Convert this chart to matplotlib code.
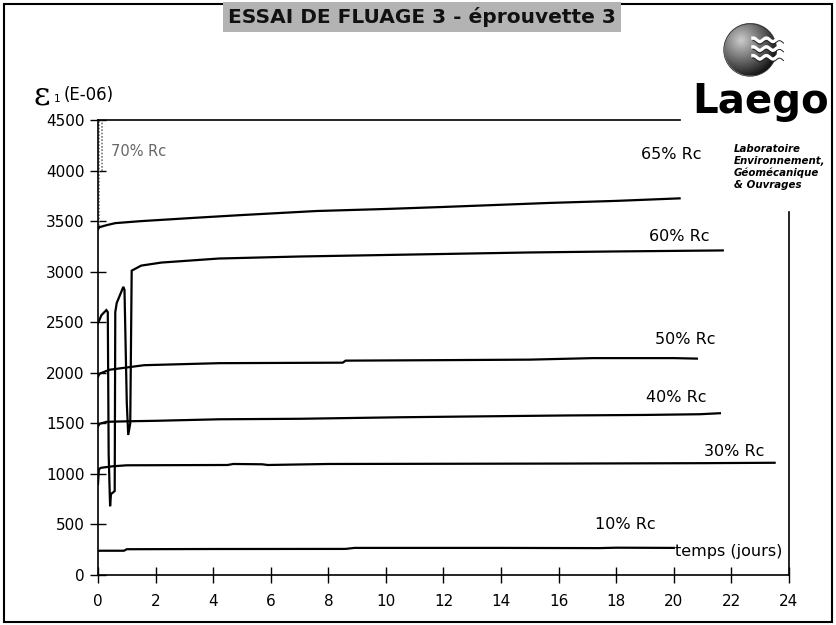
import matplotlib
matplotlib.use("Agg")
import matplotlib.pyplot as plt
from matplotlib.patches import Rectangle, Circle
import numpy as np

# creep test data (days, strain E-06)
t_10 = [0.0, 0.05, 0.9, 1.0, 4.0, 8.6, 8.9, 14.0, 17.4, 18.0, 20.0]
e_10 = [235, 240, 240, 255, 257, 258, 268, 268, 266, 270, 268]

t_30 = [0.0, 0.03, 0.1, 0.5, 1.0, 4.5, 4.7, 5.7, 5.9, 8.0, 12.0, 16.0, 21.0, 23.5]
e_30 = [900, 1045, 1060, 1075, 1085, 1088, 1098, 1095, 1088, 1098, 1100, 1102, 1106, 1110]

t_40 = [0.0, 0.05, 0.3, 1.0, 2.0, 4.2, 7.0, 10.5, 13.0, 16.3, 19.0, 20.9, 21.6]
e_40 = [1470, 1495, 1515, 1520, 1525, 1540, 1545, 1560, 1568, 1578, 1583, 1590, 1600]

t_50 = [0.0, 0.05, 0.4, 1.6, 4.2, 8.5, 8.6, 12.0, 15.0, 17.2, 20.0, 20.8]
e_50 = [1960, 1990, 2030, 2075, 2095, 2100, 2120, 2125, 2130, 2145, 2145, 2140]

t_60 = [0.0, 0.12, 0.29, 0.34, 0.37, 0.42, 0.45, 0.58, 0.6, 0.65, 0.88, 0.92,
        1.0, 1.05, 1.12, 1.17, 1.5, 2.2, 4.2, 7.0, 10.0, 15.0, 18.0, 21.7]
e_60 = [2490, 2570, 2620, 2600, 1200, 680, 800, 830, 2600, 2690, 2850, 2820,
        1700, 1385, 1500, 3010, 3060, 3090, 3130, 3150, 3165, 3190, 3200, 3210]

t_65 = [0.0, 0.05, 0.3, 0.6, 1.5, 3.5, 5.0, 7.6, 10.0, 12.0, 15.7, 18.0, 20.2]
e_65 = [3420, 3440, 3460, 3480, 3500, 3535, 3560, 3600, 3620, 3640, 3680, 3700, 3725]

t_70a = [0.02, 0.02]
e_70a = [3450, 4500]
t_70b = [0.15, 0.15]
e_70b = [4000, 4500]

labels = ["10% Rc", "30% Rc", "40% Rc", "50% Rc", "60% Rc", "65% Rc"]
label_t = [18.3, 22.1, 20.1, 20.4, 20.2, 19.9]
label_e = [495, 1226, 1760, 2334, 3343, 4154]

xticks = list(range(0, 25, 2))
yticks = list(range(0, 4501, 500))

fig = plt.figure(figsize=(8.37, 6.25), dpi=100)
ax = fig.add_axes([98 / 837, 1 - 575 / 625, 691 / 837, 455 / 625])

for t, e in [(t_10, e_10), (t_30, e_30), (t_40, e_40), (t_50, e_50),
             (t_60, e_60), (t_65, e_65)]:
    ax.plot(t, e, color="black", lw=1.6, solid_joinstyle="miter")

ax.plot(t_70a, e_70a, color="#777777", lw=1.2, ls=(0, (1, 1)))
ax.plot(t_70b, e_70b, color="#777777", lw=1.2, ls=(0, (1, 1)))

for lab, x, y in zip(labels, label_t, label_e):
    ax.text(x, y, lab, ha="center", va="center", fontsize=11.5)
ax.text(0.45, 4190, "70% Rc", ha="left", va="center", fontsize=10.5, color="#666666")
ax.text(21.9, 237, "temps (jours)", ha="center", va="center", fontsize=11.5)

ax.set_xlim(0, 24)
ax.set_ylim(0, 4500)
ax.set_xticks(xticks)
ax.set_yticks(yticks)
ax.tick_params(direction="inout", length=11, width=1.0, labelsize=11, pad=4)
ax.tick_params(axis="x", pad=8)
ax.spines["top"].set_bounds(0, 20.2)
ax.spines["right"].set_bounds(0, 3590)
for s in ax.spines.values():
    s.set_linewidth(1.2)

# y label
fig.text(34 / 837, 1 - 96 / 625, "ε", fontsize=23, family="DejaVu Serif", va="center")
fig.text(54 / 837, 1 - 99 / 625, "1", fontsize=7.5, va="center")
fig.text(64 / 837, 1 - 95 / 625, "(E-06)", fontsize=12, va="center")

# title
fig.text(422 / 837, 1 - 17 / 625, "ESSAI DE FLUAGE 3 - éprouvette 3", ha="center", va="center",
         fontsize=14.5, fontweight="bold", color="#111111",
         bbox=dict(facecolor="#b3b3b3", edgecolor="none", pad=3.5))

# logo
lax = fig.add_axes([715 / 837, 1 - 80 / 625, 70 / 837, 60 / 625])
lax.set_xlim(-1.2, 1.2)
lax.set_ylim(-1.0, 1.0)
lax.set_aspect("equal")
lax.axis("off")
g = np.linspace(-1, 1, 200)
gx, gy = np.meshgrid(g, g)
r = np.hypot(gx + 0.35, gy - 0.35)
img = np.ma.masked_where(np.hypot(gx, gy) > 1, r)
lax.imshow(img, extent=(-0.9, 0.9, -0.9, 0.9), origin="lower", cmap="gray_r", vmin=-0.4, vmax=1.6)
lax.add_patch(Circle((0, 0), 0.9, fill=False, lw=0.6, color="#333333"))
xs = np.linspace(0.1, 1.15, 60)
for off in (0.35, 0.05, -0.25):
    lax.plot(xs, off + 0.06 * np.sin(xs * 14), color="white", lw=2.4)
    lax.plot(xs, off + 0.06 * np.sin(xs * 14) - 0.09, color="#222222", lw=0.7)

fig.text(761 / 837, 1 - 102 / 625, "Laego", ha="center", va="center", fontsize=29,
         fontweight="bold")
lines = ["Laboratoire", "Environnement,", "Géomécanique", "& Ouvrages"]
for i, s in enumerate(lines):
    fig.text(734 / 837, 1 - (149 + 12 * i) / 625, s, ha="left", va="center", fontsize=7.4,
             fontweight="bold", style="italic")

# outer frame
fig.patches.append(Rectangle((4 / 837, 3 / 625), 828 / 837, 618 / 625, transform=fig.transFigure,
                             fill=False, lw=1.5, color="black"))

fig.savefig("out.png", dpi=100)
